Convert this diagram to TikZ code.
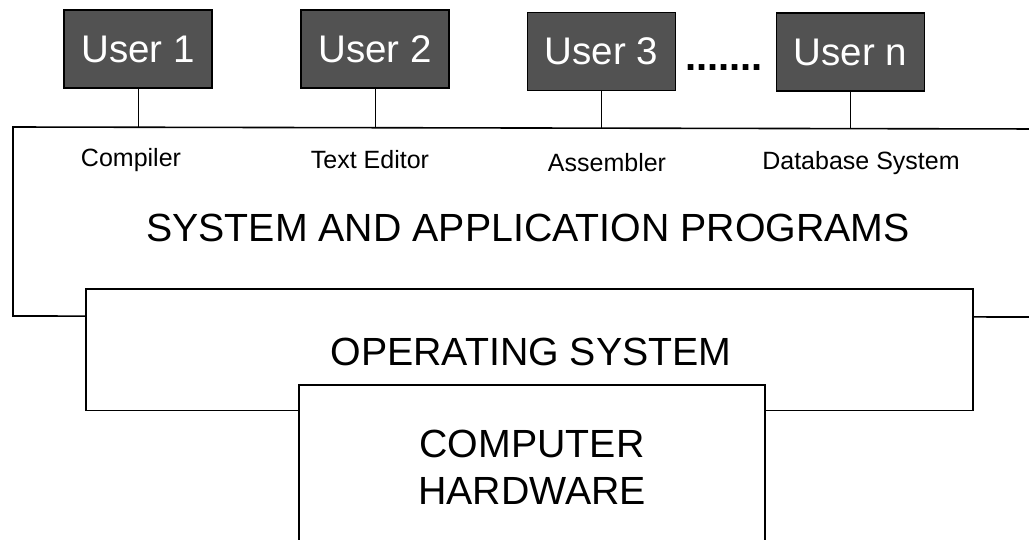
\documentclass[tikz,border=0pt]{standalone}
\usepackage{fontspec}
\setmainfont{Liberation Sans}
\definecolor{userfill}{RGB}{82,82,82}
\begin{document}
\begin{tikzpicture}[x=1pt,y=-1pt,
  userbox/.style={draw=black,line width=1.6pt,fill=userfill,text=white,
    minimum width=148pt,minimum height=78pt,inner sep=0pt,
    font=\fontsize{38.5}{44}\selectfont},
  layerbox/.style={draw=black,line width=1.6pt,fill=white},
  small/.style={inner sep=0pt,font=\fontsize{25}{30}\selectfont},
  big/.style={inner sep=0pt,font=\fontsize{39.3}{47}\selectfont,align=center},
  wire/.style={line width=1pt}]
\useasboundingbox (0,0) rectangle (1029,539);
\clip (0,0) rectangle (1029,539);
% layers
\draw[layerbox] (13,127) -- (1045,129) -- (1045,317) -- (13,316) -- cycle;
\coordinate (systop) at (13,128);
\draw[layerbox] (86,289) rectangle (973,410.5);
\draw[layerbox] (299,385) rectangle (765,570);
% users
\node[userbox] (u1) at (138,49) {User 1};
\node[userbox] (u2) at (375,49) {User 2};
\node[userbox] (u3) at (601.5,51.5) {User 3};
\node[userbox] (un) at (850.5,52) {User n};
\node[inner sep=0pt,font=\fontsize{40}{44}\bfseries] (dots) at (724,68) {.......};
% connectors
\draw[wire] (u1.south) -- (u1.south |- systop);
\draw[wire] (u2.south) -- (u2.south |- systop);
\draw[wire] (u3.south) -- (u3.south |- systop);
\draw[wire] (un.south) -- (un.south |- systop);
% labels
\node[small] (l1) at (131,160) {Compiler};
\node[small] (l2) at (370,160) {Text Editor};
\node[small] (l3) at (607,163) {Assembler};
\node[small] (l4) at (861,163) {Database System};
\node[big] (sys) at (528,228) {SYSTEM AND APPLICATION PROGRAMS};
\node[big] (os) at (531,352) {OPERATING SYSTEM};
\node[big] (hw) at (532,467) {COMPUTER\\HARDWARE};
\end{tikzpicture}
\end{document}
